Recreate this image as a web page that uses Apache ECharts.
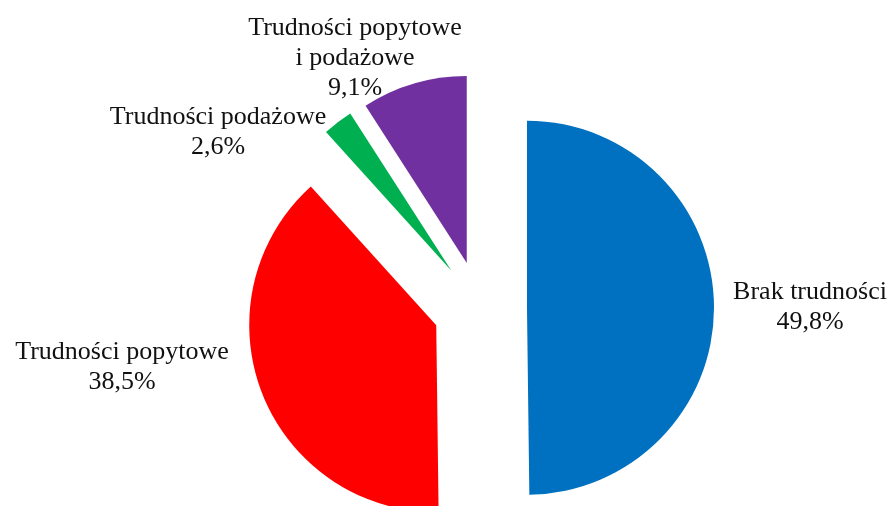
<!DOCTYPE html>
<html>
<head>
<meta charset="utf-8">
<script src="https://cdn.jsdelivr.net/npm/echarts@6/dist/echarts.min.js"></script>
<style>html,body{margin:0;padding:0;background:#fff}#c{width:894px;height:506px}</style>
</head>
<body>
<div id="c"></div>
<script>
const categories = ['Brak trudności', 'Trudności popytowe', 'Trudności podażowe', 'Trudności popytowe\ni podażowe'];
const values = [49.8, 38.5, 2.6, 9.1];
const colors = ['#0070C0', '#FF0000', '#00B050', '#7030A0'];
const labelPos = [[810, 307], [122, 367], [218, 132], [355, 58]];

const fmt = v => v.toFixed(1).replace('.', ',') + '%';

const chart = echarts.init(document.getElementById('c'));
chart.setOption({
  animation: false,
  graphic: categories.map((c, i) => ({
    type: 'text',
    x: labelPos[i][0],
    y: labelPos[i][1],
    silent: true,
    style: {
      text: c + '\n' + fmt(values[i]),
      fontFamily: 'Liberation Serif',
      fontSize: 26,
      lineHeight: 30,
      fill: '#111',
      align: 'center',
      verticalAlign: 'middle'
    }
  })),
  series: [{
    type: 'pie',
    center: [480, 308],
    radius: 187,
    startAngle: 90,
    clockwise: true,
    selectedMode: 'multiple',
    selectedOffset: 47,
    emphasis: { disabled: true },
    label: { show: false },
    labelLine: { show: false },
    data: categories.map((c, i) => ({
      name: c,
      value: values[i],
      selected: true,
      itemStyle: { color: colors[i] }
    }))
  }]
});
</script>
</body>
</html>
